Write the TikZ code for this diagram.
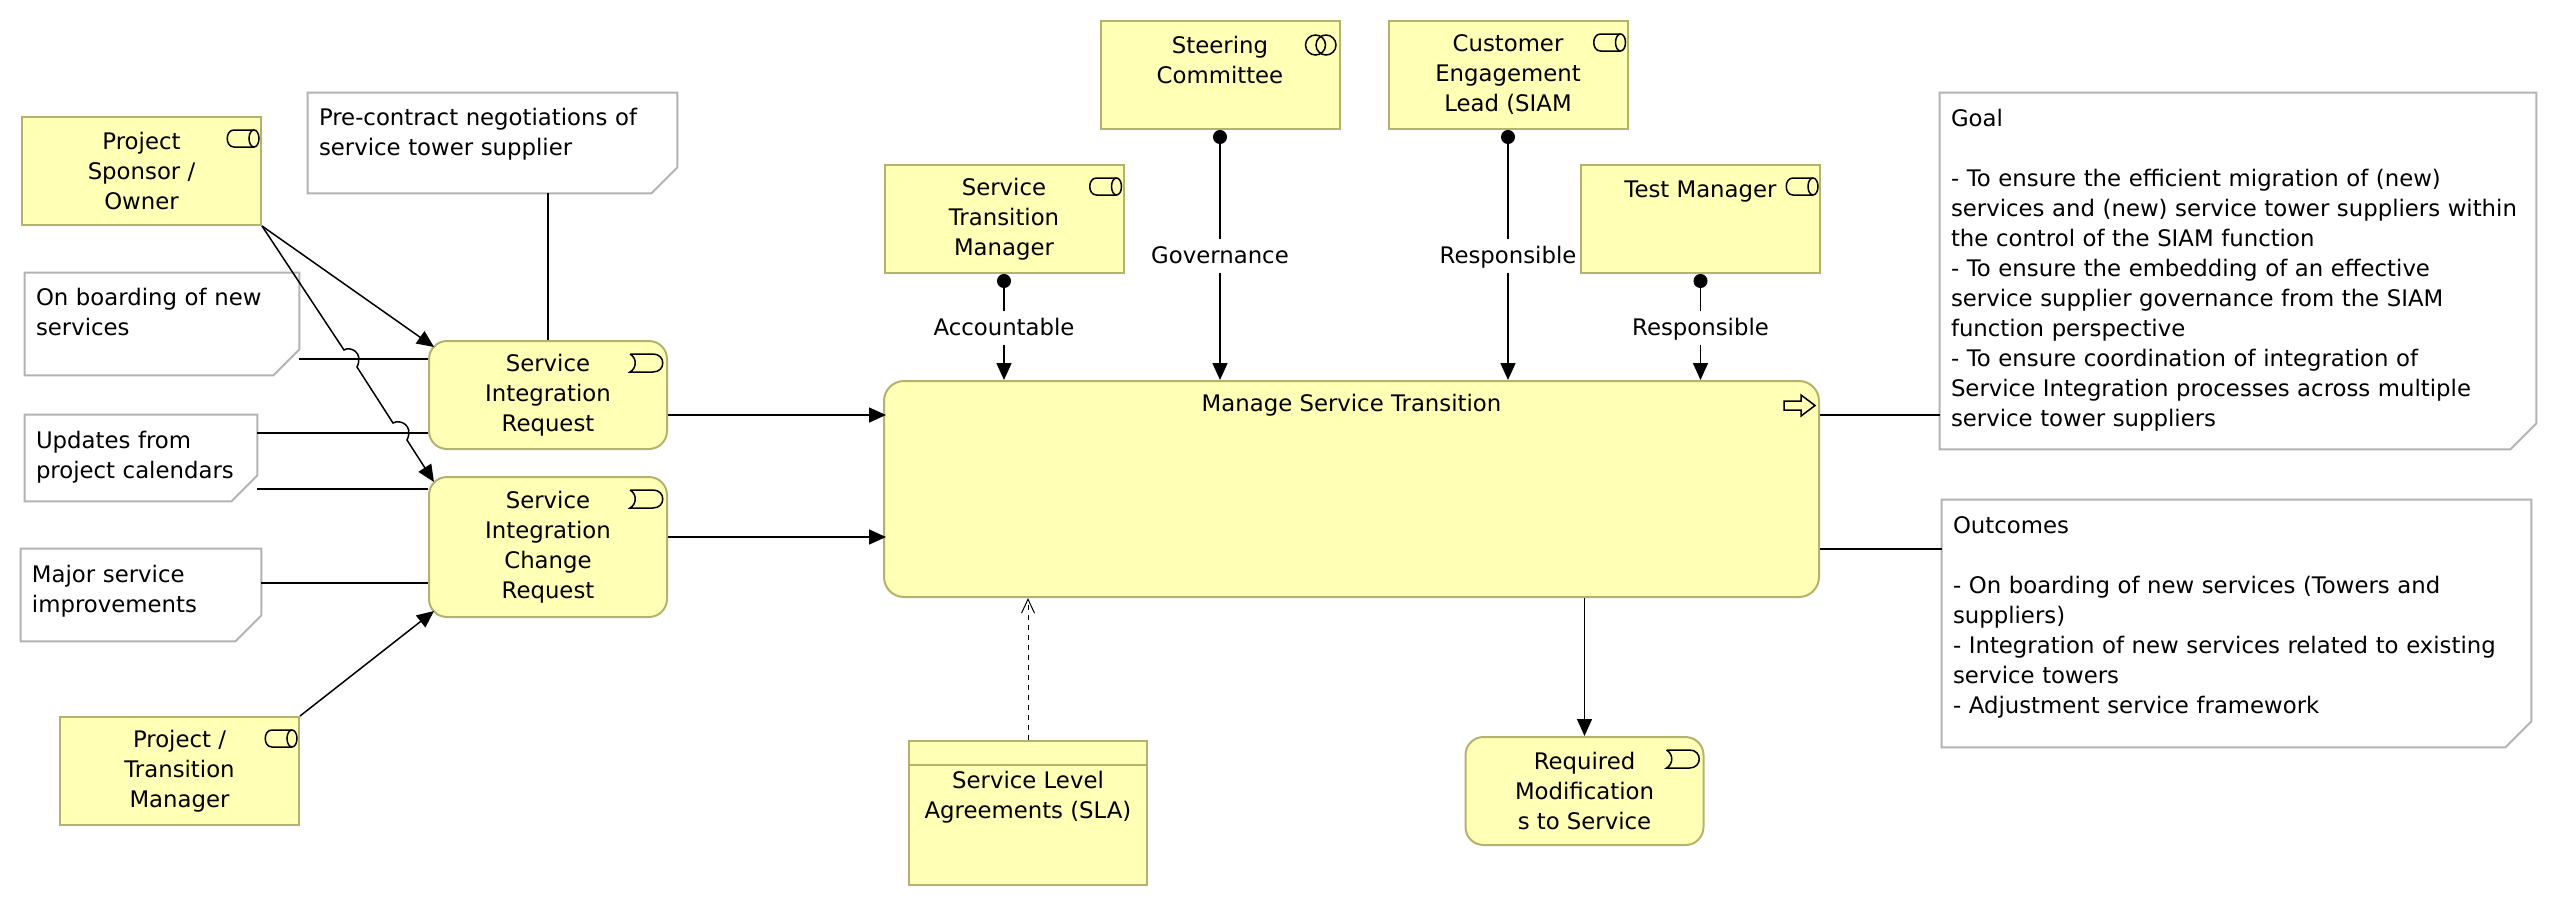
\documentclass[tikz,border=0pt]{standalone}
\usepackage{fontspec}
\setmainfont{DejaVu Sans}
\usetikzlibrary{arrows.meta}
\definecolor{boxfill}{HTML}{FFFFB5}
\definecolor{boxline}{HTML}{B3B36E}
\definecolor{noteline}{HTML}{B3B3B3}
\newcommand{\notefold}[1]{\draw[notebd] (#1.north west) -- (#1.north east)
  -- ([yshift=13pt]#1.south east) -- ([xshift=-13pt]#1.south east)
  -- (#1.south west) -- cycle;}
\tikzset{
  elem/.style    ={draw=boxline, fill=boxfill, line width=1pt, inner sep=0pt,
                   align=center, font=\fontsize{11.4}{15}\selectfont},
  actor/.style   ={elem, minimum width=119.5pt, minimum height=54pt},
  evt/.style     ={elem, rounded corners=9pt, minimum width=119pt, minimum height=54pt},
  procbox/.style ={elem, rounded corners=10pt, minimum width=467.5pt, minimum height=108pt},
  contr/.style   ={elem, minimum width=119pt, minimum height=72pt},
  note/.style 2 args={text width=#1, minimum height=#2, inner xsep=5.5pt, inner ysep=0pt,
                   align=left, font=\fontsize{11.4}{15}\selectfont},
  notebd/.style  ={draw=noteline, line width=1pt},
  lbl/.style     ={fill=white, inner sep=0pt, minimum height=17pt, text height=10pt, text depth=2.5pt,
                   font=\fontsize{11.4}{15}\selectfont},
  assoc/.style   ={line width=0.75pt},
  trig/.style    ={-{Triangle[length=8.5pt,width=7.5pt]}, line width=0.75pt},
  assign/.style  ={{Circle[length=7pt,width=7pt]}-{Triangle[length=8.5pt,width=7.5pt]}, line width=0.75pt},
  access/.style  ={-{Straight Barb[length=7pt,width=6.5pt]}, line width=0.5pt,
                   dash pattern=on 2.5pt off 2.5pt},
  icon/.style    ={draw=black, line width=0.75pt},
  pics/roleicon/.style={code={
    \draw[icon] (-8,14) -- (-28,14) .. controls (-37,14) and (-37,31) .. (-28,31) -- (-8,31);
    \draw[icon] (-8,22.5) ellipse [x radius=5, y radius=8.5];}},
  pics/collabicon/.style={code={
    \draw[icon] (-25,25) circle [radius=10];
    \draw[icon] (-14.5,25) circle [radius=10];}},
  pics/evticon/.style={code={
    \draw[icon] (-38,14) -- (-15,14) .. controls (-2,14) and (-2,32) .. (-15,32) -- (-38,32)
      .. controls (-31,28) and (-31,18) .. (-38,14);}},
  pics/procicon/.style={code={
    \draw[icon] (-36,21) -- (-19,21) -- (-19,15) -- (-5,25.5) -- (-19,36) -- (-19,30) -- (-36,30) -- cycle;}},
}
\begin{document}
\begin{tikzpicture}[x=0.5pt,y=-0.5pt]
  \useasboundingbox (0,0) rectangle (2556,906);
  \node[actor] (spons) at (141.5,171) {Project\\Sponsor /\\Owner};
  \node[actor] (ptm) at (179.5,771) {Project /\\Transition\\Manager};
  \node[actor] (stm) at (1004,219) {Service\\Transition\\Manager};
  \node[actor] (steer) at (1220,75) {Steering\\Committee\\~};
  \node[actor] (cust) at (1508,75) {Customer\\Engagement\\Lead (SIAM};
  \node[actor] (tmgr) at (1700.5,219) {Test Manager\\~\\~};
  \node[evt] (sir) at (548,395) {Service\\Integration\\Request};
  \node[evt, minimum height=70pt] (sic) at (548,547) {Service\\Integration\\Change\\Request};
  \node[evt] (req) at (1584.5,791) {Required\\Modification\\s to Service};
  \node[procbox] (main) at (1351.5,489) {Manage Service Transition\\[71pt]~};
  \node[contr] (sla) at (1028,813) {Service Level\\Agreements (SLA)\\[3pt]~};
  \node[note={173.5pt}{50pt}] (pre) at (492.5,143) {Pre-contract negotiations of\\service tower supplier\\[-4pt]~};
  \node[note={126pt}{51pt}] (board) at (162,324) {On boarding of new\\services\\[-3pt]~};
  \node[note={105pt}{43pt}] (upd) at (141,458) {Updates from\\project calendars\\[-12pt]~};
  \node[note={109pt}{46pt}] (major) at (141,595) {Major service\\improvements\\[-9pt]~};
  \node[note={287pt}{178pt}] (goal) at (2238,271) {Goal\\~\\- To ensure the efficient migration of (new)\\services and (new) service tower suppliers within\\the control of the SIAM function\\- To ensure the embedding of an effective\\service supplier governance from the SIAM\\function perspective\\- To ensure coordination of integration of\\Service Integration processes across multiple\\service tower suppliers\\[-11.5pt]~};
  \node[note={283.5pt}{123.5pt}] (outc) at (2236.5,623.5) {Outcomes\\~\\- On boarding of new services (Towers and\\suppliers)\\- Integration of new services related to existing\\service towers\\- Adjustment service framework\\[-7pt]~};
  \notefold{pre}
  \notefold{board}
  \notefold{upd}
  \notefold{major}
  \notefold{goal}
  \notefold{outc}
  \pic at (spons.north east) {roleicon};
  \pic at (ptm.north east) {roleicon};
  \pic at (stm.north east) {roleicon};
  \pic at (cust.north east) {roleicon};
  \pic at (tmgr.north east) {roleicon};
  \pic at (steer.north east) {collabicon};
  \pic at (sir.north east) {evticon};
  \pic at (sic.north east) {evticon};
  \pic at (req.north east) {evticon};
  \pic at (main.north east) {procicon};
  \coordinate (hopa) at (344,350);
  \coordinate (hopb) at (357,367);
  \coordinate (hopc) at (393,423);
  \coordinate (hopd) at (407,440);
  \draw[trig] (spons.south east) -- ([shift={(6,7)}]sir.north west);
  \draw[trig] (spons.south east) -- (hopa) .. controls (350,346) and (364,352) .. (hopb)
    -- (hopc) .. controls (400,419) and (414,425) .. (hopd) -- ([shift={(6,6)}]sic.north west);
  \draw[trig] (ptm.north east) -- ([shift={(6,-7)}]sic.south west);
  \draw[assoc] (pre.south -| sir.north) -- (sir.north);
  \draw[assoc] (board.east |- 0,359) -- (sir.west |- 0,359);
  \draw[assoc] (upd.east |- 0,433) -- (sir.west |- 0,433);
  \draw[assoc] (upd.east |- 0,489) -- (sic.west |- 0,489);
  \draw[assoc] (major.east |- 0,583) -- (sic.west |- 0,583);
  \draw[trig] (sir.east |- 0,415) -- ([xshift=1.5pt]main.west |- 0,415);
  \draw[trig] (sic.east |- 0,537) -- ([xshift=1.5pt]main.west |- 0,537);
  \draw[assoc] (main.east |- 0,415) -- (goal.west |- 0,415);
  \draw[assoc] (main.east |- 0,549) -- (outc.west |- 0,549);
  \draw[assign] (stm.south) -- (stm.south |- main.north);
  \draw[assign] (steer.south) -- (steer.south |- main.north);
  \draw[assign] (cust.south) -- (cust.south |- main.north);
  \draw[assign] (tmgr.south) -- (tmgr.south |- main.north);
  \draw[trig] (main.south -| req.north) -- (req.north);
  \draw[access] (sla.north) -- (sla.north |- main.south);
  \draw[boxline, line width=1pt] (sla.west |- 0,765) -- (sla.east |- 0,765);
  \node[lbl] (acct) at (1004,328) {Accountable};
  \node[lbl] (gov) at (1220,256) {Governance};
  \node[lbl] (resp) at (1508,256) {Responsible};
  \node[lbl] (respb) at (1700.5,328) {Responsible};
\end{tikzpicture}
\end{document}
